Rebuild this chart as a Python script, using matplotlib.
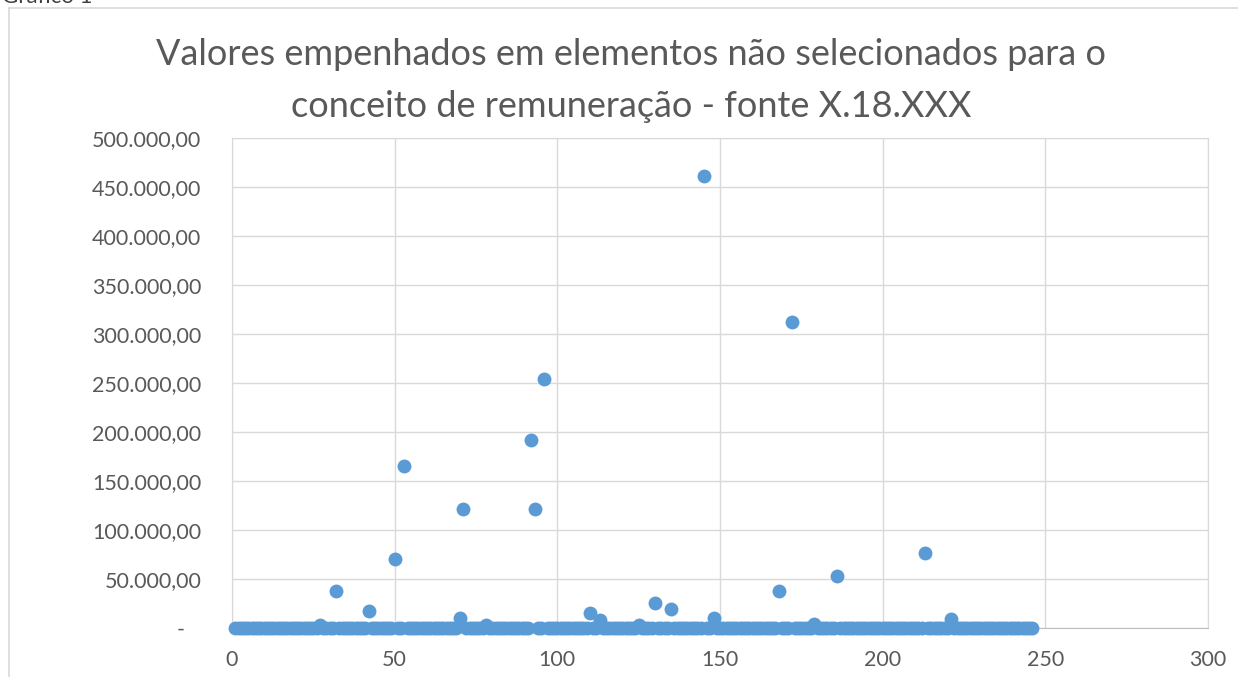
import matplotlib

matplotlib.use("Agg")
import matplotlib.pyplot as plt
from matplotlib.lines import Line2D
from matplotlib.ticker import FuncFormatter, MultipleLocator

TITLE_LINES = [
    "Valores empenhados em elementos não selecionados para o",
    "conceito de remuneração - fonte X.18.XXX",
]
CAPTION = "Gráfico 1"

# one value per element index (1..246)
ELEMENT_INDEX = list(range(1, 247))
VALORES = [
    0, 0, 0, 0, 0, 0, 0, 0, 0, 0,
    0, 0, 0, 0, 0, 0, 0, 0, 0, 0,
    0, 0, 0, 0, 0, 0, 3000, 0, 0, 0,
    0, 38000, 0, 0, 0, 0, 0, 0, 0, 0,
    0, 17000, 0, 0, 0, 0, 0, 0, 0, 70000,
    0, 0, 165000, 0, 0, 0, 0, 0, 0, 0,
    0, 0, 0, 0, 0, 0, 0, 0, 0, 10000,
    121000, 0, 0, 0, 0, 0, 0, 3000, 0, 0,
    0, 0, 0, 0, 0, 0, 0, 0, 0, 0,
    0, 192000, 121000, 0, 0, 254000, 0, 0, 0, 0,
    0, 0, 0, 0, 0, 0, 0, 0, 0, 15000,
    0, 0, 8000, 0, 0, 0, 0, 0, 0, 0,
    0, 0, 0, 0, 3000, 0, 0, 0, 0, 25000,
    0, 0, 0, 0, 19000, 0, 0, 0, 0, 0,
    0, 0, 0, 0, 461000, 0, 0, 10000, 0, 0,
    0, 0, 0, 0, 0, 0, 0, 0, 0, 0,
    0, 0, 0, 0, 0, 0, 0, 38000, 0, 0,
    0, 312000, 0, 0, 0, 0, 0, 0, 4000, 0,
    0, 0, 0, 0, 0, 53000, 0, 0, 0, 0,
    0, 0, 0, 0, 0, 0, 0, 0, 0, 0,
    0, 0, 0, 0, 0, 0, 0, 0, 0, 0,
    0, 0, 77000, 0, 0, 0, 0, 0, 0, 0,
    9000, 0, 0, 0, 0, 0, 0, 0, 0, 0,
    0, 0, 0, 0, 0, 0, 0, 0, 0, 0,
    0, 0, 0, 0, 0, 0,
]

TEXT_GREY = "#595959"
GRID_GREY = "#d9d9d9"
MARKER_BLUE = "#5b9bd5"

plt.rcParams["font.family"] = ["Lato", "DejaVu Sans"]


def br_money(value, _pos):
    # accounting style: zero shows as a dash
    if abs(value) < 1e-9:
        return "-   "
    s = f"{value:,.2f}"
    return s.replace(",", "X").replace(".", ",").replace("X", ".")


fig = plt.figure(figsize=(12.38, 6.77), dpi=100)
ax = fig.add_axes([0.1874, 0.0724, 0.7884, 0.7238])

ax.scatter(ELEMENT_INDEX, VALORES, s=100, color=MARKER_BLUE, linewidths=0, zorder=3, clip_on=False)

ax.set_xlim(0, 300)
ax.set_ylim(0, 500000)
ax.xaxis.set_major_locator(MultipleLocator(50))
ax.yaxis.set_major_locator(MultipleLocator(50000))
ax.yaxis.set_major_formatter(FuncFormatter(br_money))
ax.grid(True, color=GRID_GREY, linewidth=1.0)
ax.set_axisbelow(True)
for spine in ax.spines.values():
    spine.set_color(GRID_GREY)
ax.spines["bottom"].set_color("#bfbfbf")
ax.tick_params(length=0, labelsize=15.5, labelcolor=TEXT_GREY)
ax.tick_params(axis="y", pad=22)
ax.tick_params(axis="x", pad=15.5)

for line, baseline_px in zip(TITLE_LINES, [65, 117]):
    fig.text(0.5095, 1 - baseline_px / 677, line, ha="center", va="baseline", fontsize=26, color=TEXT_GREY)

# chart frame, partially cut off like the screenshot
fig.add_artist(Line2D([9 / 1238, 1.0], [1 - 8 / 677, 1 - 8 / 677], color=GRID_GREY, linewidth=1.2))
fig.add_artist(Line2D([9 / 1238, 9 / 1238], [0.0, 1 - 8 / 677], color=GRID_GREY, linewidth=1.2))
fig.text(0.002, 1 - 3 / 677, CAPTION, ha="left", va="baseline", fontsize=16, color="#404040")

fig.savefig("out.png", dpi=100, facecolor="white")
